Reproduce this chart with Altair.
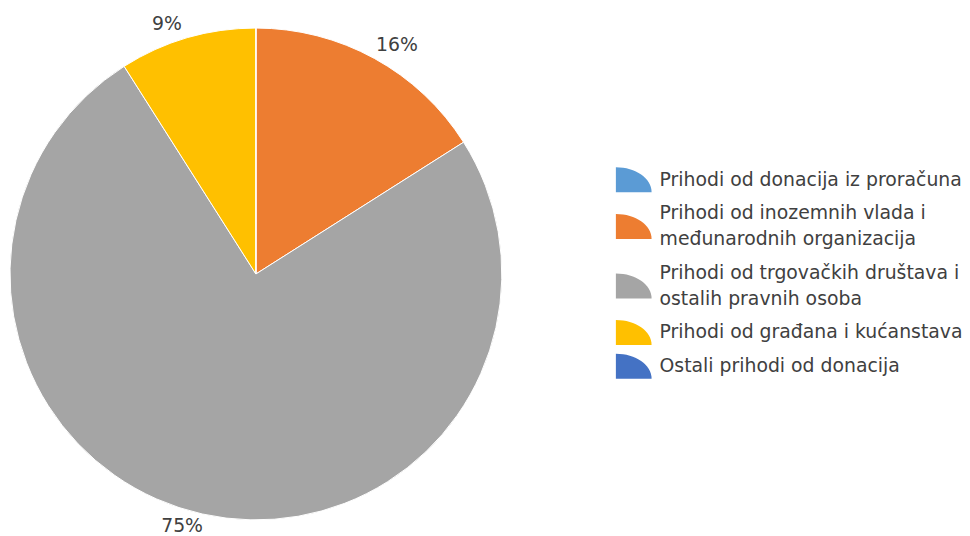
import altair as alt
import pandas as pd

categories = [
    "Prihodi od donacija iz proračuna",
    "Prihodi od inozemnih vlada i\nmeđunarodnih organizacija",
    "Prihodi od trgovačkih društava i\nostalih pravnih osoba",
    "Prihodi od građana i kućanstava",
    "Ostali prihodi od donacija",
]
values = [0, 16, 75, 9, 0]
pct_labels = ["", "16%", "75%", "9%", ""]
colors = ["#5B9BD5", "#ED7D31", "#A5A5A5", "#FFC000", "#4472C4"]

# nudges of the percentage labels away from the slice mid-angle (px)
label_nudge = {"16%": (13, 4), "75%": (-16, -7), "9%": (-15, 5)}

FONT = "DejaVu Sans"
FS = 19
LINE_H = 26
ROW_GAP = 8
LEG_TOP = 158
W, H = 962, 528
CX, CY, R = 250, 266, 248

# legend row centres derived from the number of lines in each label
centres, text_y = [], []
top = LEG_TOP
for c in categories:
    n = c.count("\n") + 1
    h = n * LINE_H
    centres.append(top + h / 2)
    text_y.append(top + h / 2 - (n - 1) * LINE_H / 2)
    top += h + ROW_GAP

df = pd.DataFrame({
    "cat": categories,
    "val": values,
    "lbl": pct_labels,
    "idx": list(range(len(categories))),
    "ly": centres,
    "ty": text_y,
})

color_scale = alt.Scale(domain=categories, range=colors)
yscale = alt.Scale(domain=[H, 0], nice=False, zero=False)
theta_scale = alt.Scale(domain=[0, sum(values)], nice=False, zero=True)

pie = alt.Chart(df).mark_arc(stroke="white", strokeWidth=1, radius=R).encode(
    theta=alt.Theta("val:Q", stack=True, scale=theta_scale),
    order=alt.Order("idx:O"),
    x=alt.value(CX),
    y=alt.value(CY),
    color=alt.Color("cat:N", scale=color_scale, legend=None),
)

layers = [pie]
for lbl, (ddx, ddy) in label_nudge.items():
    t = (
        alt.Chart(df)
        .transform_window(cum="sum(val)", sort=[alt.SortField("idx")],
                          frame=[None, 0])
        .transform_calculate(mid="datum.cum - datum.val / 2")
        .transform_filter(alt.datum.lbl == lbl)
        .mark_text(radius=268, font=FONT, fontSize=FS, color="#404040",
                   dx=ddx, dy=ddy)
        .encode(
            theta=alt.Theta("mid:Q", scale=theta_scale),
            x=alt.value(CX),
            y=alt.value(CY),
            text="lbl:N",
        )
    )
    layers.append(t)

leg_sym = alt.Chart(df).mark_point(
    shape="M-1,-0.7 A2,1.4 0 0,1 1,0.7 L-1,0.7 Z",
    size=1296, filled=True, opacity=1, strokeWidth=0,
).encode(
    x=alt.value(631),
    y=alt.Y("ly:Q", scale=yscale, axis=None),
    color=alt.Color("cat:N", scale=color_scale, legend=None),
)

leg_txt = alt.Chart(df).mark_text(
    align="left", baseline="middle", font=FONT, fontSize=FS,
    color="#404040", lineBreak="\n", lineHeight=LINE_H,
).encode(
    x=alt.value(657),
    y=alt.Y("ty:Q", scale=yscale, axis=None),
    text="cat:N",
)

layers += [leg_sym, leg_txt]

chart = alt.layer(*layers).properties(
    width=W, height=H, padding=0,
    autosize=alt.AutoSizeParams(type="none"),
).configure_view(stroke=None)

chart.save("out.html", embed_options={"renderer": "svg", "actions": False})
